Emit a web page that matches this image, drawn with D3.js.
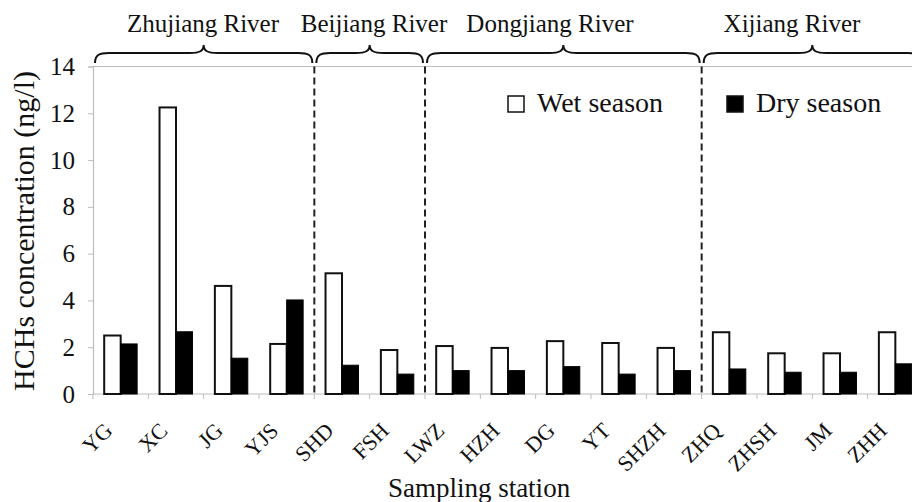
<!DOCTYPE html>
<html>
<head>
<meta charset="utf-8">
<script src="https://cdn.jsdelivr.net/npm/d3@7"></script>
<style>
  body { margin: 0; background: #fff; }
  text { font-family: "Liberation Serif", "Times New Roman", serif; fill: #111; }
</style>
</head>
<body>
<svg width="912" height="502"></svg>
<script>
var stations = ["YG", "XC", "JG", "YJS", "SHD", "FSH", "LWZ", "HZH", "DG", "YT", "SHZH", "ZHQ", "ZHSH", "JM", "ZHH"];
var wetSeason = [2.5, 12.25, 4.62, 2.14, 5.16, 1.88, 2.05, 1.97, 2.26, 2.18, 1.97, 2.64, 1.74, 1.74, 2.64];
var drySeason = [2.14, 2.66, 1.53, 4.02, 1.23, 0.85, 1.0, 1.0, 1.17, 0.85, 1.0, 1.07, 0.93, 0.93, 1.29];
var rivers = ["Zhujiang River", "Beijiang River", "Dongjiang River", "Xijiang River"];
var riverFirst = ["YG", "SHD", "LWZ", "ZHQ"];
var riverLast = ["YJS", "FSH", "SHZH", "ZHH"];
var yTicks = [0, 2, 4, 6, 8, 10, 12, 14];

var svg = d3.select("svg"),
    plotLeft = 93, plotRight = 923, plotTop = 66.5, plotBottom = 394;

var x = d3.scaleBand().domain(stations).range([plotLeft, plotRight]).padding(0);
var xs = d3.scaleBand().domain(["wet", "dry"]).range([0, x.bandwidth()]).paddingInner(0).paddingOuter(0.68);
var y = d3.scaleLinear().domain([0, 14]).range([plotBottom, plotTop]);

// frame lines (light grey)
var grey = "#bdbdbd";
svg.append("line").attr("x1", plotLeft).attr("x2", 912).attr("y1", plotTop).attr("y2", plotTop)
    .attr("stroke", grey).attr("stroke-width", 1.2);

// y axis
var yAxis = svg.append("g")
    .attr("transform", "translate(" + plotLeft + ",0)")
    .call(d3.axisLeft(y).tickValues(yTicks).tickSize(5).tickPadding(13));
yAxis.select(".domain").attr("stroke", grey).attr("stroke-width", 1.2);
yAxis.selectAll(".tick line").attr("stroke", grey);
yAxis.selectAll(".tick text")
    .style("font-family", "Liberation Serif")
    .style("font-size", "25px")
    .attr("fill", "#111");

// x axis baseline and boundary ticks
svg.append("line").attr("x1", plotLeft).attr("x2", 912).attr("y1", plotBottom).attr("y2", plotBottom)
    .attr("stroke", grey).attr("stroke-width", 1.2);
svg.append("g").selectAll("line")
  .data(stations)
  .enter().append("line")
    .attr("x1", function(d) { return x(d); })
    .attr("x2", function(d) { return x(d); })
    .attr("y1", plotBottom)
    .attr("y2", plotBottom + 5)
    .attr("stroke", grey);

svg.append("g").selectAll("text")
  .data(stations)
  .enter().append("text")
    .attr("transform", function(d) {
      return "translate(" + (x(d) + x.bandwidth() / 2 - 7) + "," + 432 + ") rotate(-45)";
    })
    .attr("text-anchor", "end")
    .style("font-size", "22px")
    .text(function(d) { return d; });

// bars
var groups = svg.append("g").selectAll("g")
  .data(stations)
  .enter().append("g")
    .attr("transform", function(d) { return "translate(" + x(d) + ",0)"; });

groups.append("rect")
    .attr("x", xs("wet"))
    .attr("y", function(d, i) { return y(wetSeason[i]); })
    .attr("width", xs.bandwidth())
    .attr("height", function(d, i) { return y(0) - y(wetSeason[i]); })
    .attr("fill", "#fff")
    .attr("stroke", "#111")
    .attr("stroke-width", 2);

groups.append("rect")
    .attr("x", xs("dry"))
    .attr("y", function(d, i) { return y(drySeason[i]); })
    .attr("width", xs.bandwidth())
    .attr("height", function(d, i) { return y(0) - y(drySeason[i]); })
    .attr("fill", "#000")
    .attr("stroke", "#000")
    .attr("stroke-width", 1);

// dashed river separators
svg.append("g").selectAll("line")
  .data(riverFirst.slice(1))
  .enter().append("line")
    .attr("x1", function(d) { return x(d); })
    .attr("x2", function(d) { return x(d); })
    .attr("y1", plotTop)
    .attr("y2", plotBottom)
    .attr("stroke", "#222")
    .attr("stroke-width", 2)
    .attr("stroke-dasharray", "7,4");

// braces
function brace(x0, x1) {
  var m = (x0 + x1) / 2, yb = 63, yl = 53, yp = 45;
  return "M" + x0 + "," + yb +
    " C" + x0 + "," + (yl + 2) + " " + (x0 + 4) + "," + yl + " " + (x0 + 14) + "," + yl +
    " L" + (m - 14) + "," + yl +
    " C" + (m - 4) + "," + yl + " " + m + "," + (yl - 2) + " " + m + "," + yp +
    " C" + m + "," + (yl - 2) + " " + (m + 4) + "," + yl + " " + (m + 14) + "," + yl +
    " L" + (x1 - 14) + "," + yl +
    " C" + (x1 - 4) + "," + yl + " " + x1 + "," + (yl + 2) + " " + x1 + "," + yb;
}
svg.append("g").selectAll("path")
  .data(rivers)
  .enter().append("path")
    .attr("d", function(d, i) {
      return brace(x(riverFirst[i]) + 2, x(riverLast[i]) + x.bandwidth() - 2);
    })
    .attr("fill", "none")
    .attr("stroke", "#111")
    .attr("stroke-width", 2);

var riverLabelX = [203, 374, 550, 792];
svg.append("g").selectAll("text")
  .data(rivers)
  .enter().append("text")
    .attr("x", function(d, i) { return riverLabelX[i]; })
    .attr("y", 32)
    .attr("text-anchor", "middle")
    .style("font-size", "25px")
    .text(function(d) { return d; });

// legend
var legend = [{label: "Wet season", fill: "#fff", x: 508}, {label: "Dry season", fill: "#000", x: 727}];
var lg = svg.append("g").selectAll("g")
  .data(legend)
  .enter().append("g")
    .attr("transform", function(d) { return "translate(" + d.x + ",96)"; });
lg.append("rect")
    .attr("width", 16).attr("height", 16)
    .attr("fill", function(d) { return d.fill; })
    .attr("stroke", "#111").attr("stroke-width", 1.5);
lg.append("text")
    .attr("x", 29).attr("y", 16)
    .style("font-size", "28px")
    .text(function(d) { return d.label; });

// axis titles
svg.append("text")
    .attr("x", 479).attr("y", 497)
    .attr("text-anchor", "middle")
    .style("font-size", "27px")
    .text("Sampling station");

svg.append("text")
    .attr("transform", "translate(34,231) rotate(-90)")
    .attr("text-anchor", "middle")
    .style("font-size", "30px")
    .text("HCHs concentration (ng/l)");
</script>
</body>
</html>
